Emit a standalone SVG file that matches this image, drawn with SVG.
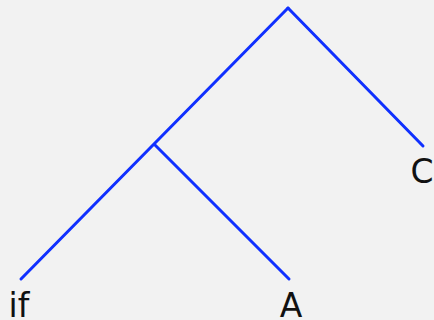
<svg xmlns="http://www.w3.org/2000/svg" width="434" height="320" viewBox="0 0 434 320">
<style>
.e{stroke:#1030ff;stroke-width:3;fill:none;stroke-linecap:round}
.t{font-family:"DejaVu Sans",sans-serif;font-size:33px;fill:#111;text-anchor:middle}
</style>
<rect width="434" height="320" fill="#f2f2f2"/>
<g id="connectors">
<line class="e" x1="288" y1="8" x2="21" y2="279"/>
<line class="e" x1="288" y1="8" x2="423" y2="146"/>
<line class="e" x1="155" y1="145" x2="289" y2="279"/>
</g>
<g id="node-if"><text class="t" x="19" y="317">if</text></g>
<g id="node-A"><text class="t" x="291" y="317">A</text></g>
<g id="node-C"><text class="t" x="422" y="183">C</text></g>
</svg>
